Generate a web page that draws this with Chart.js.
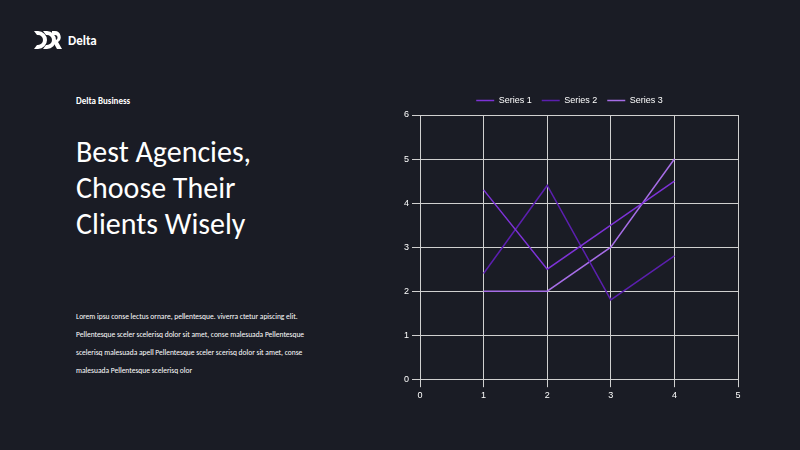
<!DOCTYPE html>
<html>
<head>
<meta charset="utf-8">
<script src="https://cdn.jsdelivr.net/npm/chart.js@4"></script>
<style>
  body { margin: 0; width: 800px; height: 450px; background: #1a1c25; font-family: Calibri, Carlito, "Open Sans", sans-serif; color: #fff; position: relative; overflow: hidden; }
  .logo { position: absolute; left: 34px; top: 31px; }
  .brand { position: absolute; left: 68px; top: 33px; font-size: 13px; font-weight: bold; }
  .sub { position: absolute; left: 76px; top: 95px; font-size: 9px; font-weight: bold; }
  h1 { position: absolute; left: 76px; top: 134px; margin: 0; font-weight: 300; font-size: 30px; line-height: 36px; }
  .body { position: absolute; left: 76px; top: 308px; width: 240px; font-size: 7.5px; line-height: 18px; }
  #wrap { position: absolute; left: 401px; top: 86px; width: 353px; height: 318px; }
</style>
</head>
<body>
<svg class="logo" width="28" height="18" viewBox="0 0 28 18">
  <path d="M0 0h4a9 9 0 0 1 0 18H0l3-4h1a5 5 0 0 0 0-10H3z" fill="#fff"/>
  <path d="M9 0h4a9 9 0 0 1 0 18H9l3-4h1a5 5 0 0 0 0-10h-1z" fill="#fff"/>
  <path d="M18 0h3a6 6 0 0 1 3 11l4 7h-5l-5-9h3a2 2 0 0 0 0-5h-3z" fill="#fff"/>
</svg>
<div class="brand">Delta</div>
<div class="sub">Delta Business</div>
<h1>Best Agencies,<br>Choose Their<br>Clients Wisely</h1>
<div class="body">Lorem ipsu conse lectus ornare, pellentesque. viverra ctetur apiscing elit. Pellentesque sceler scelerisq dolor sit amet, conse malesuada Pellentesque scelerisq malesuada apell Pellentesque sceler scerisq dolor sit amet, conse malesuada Pellentesque scelerisq olor</div>
<div id="wrap"><canvas id="myChart"></canvas></div>
<script>
document.addEventListener("DOMContentLoaded", function () {
  "use strict";
  // x positions shared by every series
  const xValues = [1, 2, 3, 4];
  const series1 = [4.3, 2.5, 3.5, 4.5];
  const series2 = [2.4, 4.4, 1.8, 2.8];
  const series3 = [2, 2, 3, 5];
  const seriesNames = ["Series 1", "Series 2", "Series 3"];
  const colors = ["#7d32d6", "#5b1fae", "#a66de6"];

  const toPoints = (ys) => ys.map((y, i) => ({ x: xValues[i], y: y }));

  new Chart(document.getElementById("myChart"), {
    type: "scatter",
    data: {
      datasets: [series1, series2, series3].map((ys, i) => ({
        label: seriesNames[i],
        data: toPoints(ys),
        showLine: true,
        borderColor: colors[i],
        backgroundColor: colors[i],
        borderWidth: 1.5,
        pointRadius: 0,
      })),
    },
    options: {
      responsive: true,
      maintainAspectRatio: false,
      animation: false,
      layout: { padding: { left: 0, right: 16, top: 0, bottom: 0 } },
      plugins: {
        legend: {
          labels: {
            color: "#fff",
            font: { size: 9 },
            boxWidth: 18,
            boxHeight: 0,
            padding: 10,
          },
        },
        tooltip: { enabled: false },
      },
      scales: {
        x: {
          min: 0, max: 5,
          ticks: { stepSize: 1, color: "#fff", font: { size: 9 } },
          grid: { color: "#d0d0d0", lineWidth: 1 },
          border: { color: "#d0d0d0" },
        },
        y: {
          min: 0, max: 6,
          ticks: { stepSize: 1, color: "#fff", font: { size: 9 } },
          grid: { color: "#d0d0d0", lineWidth: 1 },
          border: { color: "#d0d0d0" },
        },
      },
    },
  });
});
</script>
</body>
</html>
